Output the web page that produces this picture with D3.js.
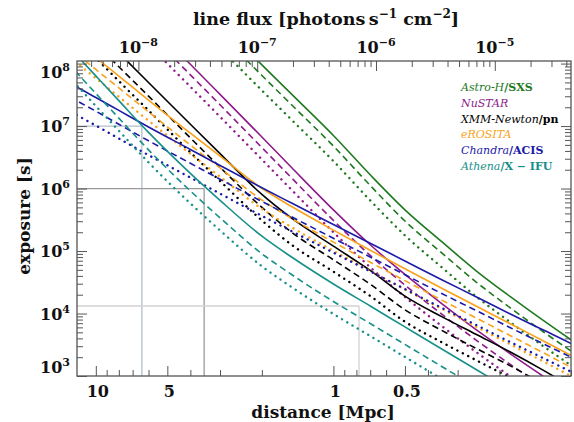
<!DOCTYPE html>
<html lang="en">
<head>
<meta charset="UTF-8">
<title>Exposure vs distance</title>
<script src="https://cdn.jsdelivr.net/npm/d3@7"></script>
<style>
  body { margin: 0; background: #ffffff; }
  text { font-family: "DejaVu Serif", serif; }
</style>
</head>
<body>
<script>
// instruments, in legend order
var instruments = ["Astro-H", "NuSTAR", "XMM-Newton", "eROSITA", "Chandra", "Athena"];
var detectors = ["SXS", "", "pn", "", "ACIS", "X \u2212 IFU"];
var colors = ["#1f7a1f", "#8e1b8c", "#000000", "#f9a21a", "#1b1ba8", "#18908a"];

// exposure curves: [distance in Mpc, exposure in s]
var astroSolid = [[2.5,2.24e8],[2,9.55e7],[1.5,3.24e7],[1,7.08e6],[0.7,1.66e6],[0.5,4.57e5],[0.35,1.41e5],[0.25,4.79e4],[0.18,1.86e4],[0.13,7.6e3],[0.1,3.8e3],[0.09,2.9e3]];
var astroDashed = [[2.5,1.51e8],[2,6.46e7],[1.5,2.19e7],[1,4.79e6],[0.7,1.12e6],[0.5,3.02e5],[0.35,9.33e4],[0.25,3.16e4],[0.18,1.23e4],[0.13,5.01e3],[0.1,2.51e3],[0.09,1.91e3]];
var astroDotted = [[3,1.74e8],[2.5,8.71e7],[2,3.72e7],[1.5,1.26e7],[1,2.75e6],[0.7,6.46e5],[0.5,1.78e5],[0.35,5.5e4],[0.25,1.86e4],[0.18,7.24e3],[0.13,2.95e3],[0.1,1.48e3],[0.09,1.12e3]];

var nustarSolid = [[5,2.27e8],[4,9.75e7],[3,3.22e7],[2,6.68e6],[1.5,2.17e6],[1,4.56e5],[0.7,1.26e5],[0.5,4.22e4],[0.35,1.44e4],[0.25,5.46e3],[0.18,2.26e3],[0.12,794]];
var nustarDashed = [[5,1.55e8],[4,6.61e7],[3,2.19e7],[2,4.52e6],[1.5,1.48e6],[1,3.09e5],[0.7,8.51e4],[0.5,2.85e4],[0.35,9.77e3],[0.25,3.72e3],[0.18,1.53e3],[0.12,537]];
var nustarDotted = [[6,2.0e8],[5,1.0e8],[4,4.27e7],[3,1.41e7],[2,2.92e6],[1.5,9.55e5],[1,2.0e5],[0.7,5.5e4],[0.5,1.84e4],[0.35,6.31e3],[0.25,2.4e3],[0.18,989],[0.15,617]];

var xmmSolid = [[8,1.49e8],[6,4.98e7],[4,1.07e7],[3,3.63e6],[2,8.04e5],[1.5,3.35e5],[1,1.2e5],[0.7,4.89e4],[0.5,1.9e4],[0.35,8.91e3],[0.25,4.61e3],[0.18,2.42e3],[0.13,1.22e3],[0.11,843]];
var xmmDashed = [[10,2.09e8],[8,8.91e7],[6,3.02e7],[4,6.46e6],[3,2.19e6],[2,5.01e5],[1.5,2.0e5],[1,7.24e4],[0.7,2.95e4],[0.5,1.15e4],[0.35,5.37e3],[0.25,2.75e3],[0.18,1.45e3],[0.13,733]];
var xmmDotted = [[12,2.45e8],[10,1.23e8],[8,5.25e7],[6,1.78e7],[4,3.8e6],[3,1.32e6],[2,3.09e5],[1.5,1.26e5],[1,4.68e4],[0.7,1.91e4],[0.5,7.41e3],[0.35,3.47e3],[0.25,1.78e3],[0.18,933],[0.15,631]];

var erositaSolid = [[12,2.18e8],[10,1.25e8],[8,6.31e7],[6,2.61e7],[4,7.69e6],[3,3.31e6],[2,1.01e6],[1.5,5.15e5],[1,2.16e5],[0.7,1.03e5],[0.5,5.2e4],[0.35,2.54e4],[0.25,1.31e4],[0.18,6.84e3],[0.13,3.61e3],[0.1,2.14e3],[0.09,1.74e3]];
var erositaDashed = [[12,1.41e8],[10,8.05e7],[8,4.07e7],[6,1.69e7],[4,4.97e6],[3,2.14e6],[2,6.55e5],[1.5,3.33e5],[1,1.39e5],[0.7,6.62e4],[0.5,3.36e4],[0.35,1.64e4],[0.25,8.45e3],[0.18,4.42e3],[0.13,2.33e3],[0.1,1.38e3],[0.09,1.12e3]];
var erositaDotted = [[14,1.62e8],[12,1.02e8],[10,5.83e7],[8,2.95e7],[6,1.22e7],[4,3.6e6],[3,1.55e6],[2,4.74e5],[1.5,2.41e5],[1,1.01e5],[0.7,4.8e4],[0.5,2.43e4],[0.35,1.19e4],[0.25,6.12e3],[0.18,3.2e3],[0.13,1.69e3],[0.1,1.0e3],[0.09,813]];

var chandraSolid = [[14,6.03e7],[12,4.22e7],[10,2.86e7],[8,1.78e7],[6,9.66e6],[4,4.22e6],[3,2.34e6],[2,1.03e6],[1.5,5.86e5],[1,2.66e5],[0.7,1.33e5],[0.5,6.93e4],[0.35,3.47e4],[0.25,1.84e4],[0.18,9.84e3],[0.13,5.38e3],[0.1,3.31e3],[0.09,2.69e3]];
var chandraDashed = [[14,3.63e7],[12,2.54e7],[10,1.73e7],[8,1.07e7],[6,5.82e6],[4,2.54e6],[3,1.41e6],[2,6.22e5],[1.5,3.53e5],[1,1.6e5],[0.7,8.04e4],[0.5,4.18e4],[0.35,2.09e4],[0.25,1.11e4],[0.18,5.93e3],[0.13,3.24e3],[0.1,2.0e3],[0.09,1.62e3]];
var chandraDotted = [[14,2.14e7],[12,1.5e7],[10,1.02e7],[8,6.32e6],[6,3.43e6],[4,1.5e6],[3,8.3e5],[2,3.66e5],[1.5,2.08e5],[1,9.44e4],[0.7,4.73e4],[0.5,2.46e4],[0.35,1.23e4],[0.25,6.52e3],[0.18,3.49e3],[0.13,1.91e3],[0.1,1.17e3],[0.09,955]];

var athenaSolid = [[14,2.53e8],[12,1.34e8],[10,6.35e7],[8,2.55e7],[6,7.92e6],[4,1.75e6],[3,6.47e5],[2,1.73e5],[1.5,8.02e4],[1,2.97e4],[0.7,1.32e4],[0.5,6.1e3],[0.35,2.7e3],[0.3,1.91e3],[0.25,1.26e3],[0.2,759]];
var athenaDashed = [[14,1.33e8],[12,7.05e7],[10,3.33e7],[8,1.34e7],[6,4.16e6],[4,9.18e5],[3,3.4e5],[2,9.06e4],[1.5,4.21e4],[1,1.56e4],[0.7,6.92e3],[0.5,3.2e3],[0.35,1.42e3],[0.3,1.0e3],[0.25,661]];
var athenaDotted = [[14,8.38e7],[12,4.45e7],[10,2.1e7],[8,8.43e6],[6,2.62e6],[4,5.79e5],[3,2.14e5],[2,5.71e4],[1.5,2.65e4],[1,9.84e3],[0.7,4.37e3],[0.5,2.02e3],[0.35,895],[0.3,631]];

// grey guide lines: distance (Mpc) and exposure (s)
var refDist = [6.4, 3.5, 0.78];
var refExp = [1e7, 1e6, 1.32e4];
var refColors = ["#b3bdc9", "#9a9a9a", "#d2d2d2"];

// tick labels
var expExponents = [3, 4, 5, 6, 7, 8];
var distLabels = [10, 5, 1, 0.5];
var fluxExponents = [-8, -7, -6, -5];

var curves = [
  {data: astroSolid, inst: 0, style: "solid"}, {data: astroDashed, inst: 0, style: "dashed"}, {data: astroDotted, inst: 0, style: "dotted"},
  {data: nustarSolid, inst: 1, style: "solid"}, {data: nustarDashed, inst: 1, style: "dashed"}, {data: nustarDotted, inst: 1, style: "dotted"},
  {data: xmmSolid, inst: 2, style: "solid"}, {data: xmmDashed, inst: 2, style: "dashed"}, {data: xmmDotted, inst: 2, style: "dotted"},
  {data: erositaSolid, inst: 3, style: "solid"}, {data: erositaDashed, inst: 3, style: "dashed"}, {data: erositaDotted, inst: 3, style: "dotted"},
  {data: chandraSolid, inst: 4, style: "solid"}, {data: chandraDashed, inst: 4, style: "dashed"}, {data: chandraDotted, inst: 4, style: "dotted"},
  {data: athenaSolid, inst: 5, style: "solid"}, {data: athenaDashed, inst: 5, style: "dashed"}, {data: athenaDotted, inst: 5, style: "dotted"}
];

//Size of the figure and of the plot frame
var w = 574, h = 422;
var pl = 77, pr = 571, pt = 61, pb = 376;
var frameColor = "#555555";

var svg = d3.select("body").append("svg")
  .attr("width", w)
  .attr("height", h);

//Scales: distance runs backwards, the flux axis on top follows flux = fluxK / d^2
var x = d3.scaleLog().domain([12, 0.1]).range([pl, pr]);
var y = d3.scaleLog().domain([1e3, 1.1e8]).range([pb, pt]);
var fluxK = 4.38e-7;
var xf = d3.scaleLog().domain([fluxK / 144, fluxK / 0.01]).range([pl, pr]);

function isDecade(v) {
  var l = Math.log10(v);
  return Math.abs(l - Math.round(l)) < 1e-6;
}

svg.append("clipPath").attr("id", "plotclip")
  .append("rect")
  .attr("x", pl).attr("y", pt)
  .attr("width", pr - pl).attr("height", pb - pt);

//Grey guide lines
var refs = svg.append("g").attr("clip-path", "url(#plotclip)");
refDist.forEach(function(d, i) {
  refs.append("line")
    .attr("x1", x(d)).attr("x2", x(d))
    .attr("y1", pb).attr("y2", y(refExp[i]))
    .attr("stroke", refColors[i]).attr("stroke-width", 1.3);
  refs.append("line")
    .attr("x1", pl).attr("x2", x(d))
    .attr("y1", y(refExp[i])).attr("y2", y(refExp[i]))
    .attr("stroke", refColors[i]).attr("stroke-width", 1.3);
});

//Exposure curves
var line = d3.line()
  .x(function(d) { return x(d[0]); })
  .y(function(d) { return y(d[1]); })
  .curve(d3.curveMonotoneX);

var dashes = {solid: null, dashed: "6.5,4", dotted: "0.1,6"};

svg.append("g").attr("clip-path", "url(#plotclip)")
  .selectAll("path.curve")
  .data(curves)
  .enter()
  .append("path")
  .attr("class", "curve")
  .attr("d", function(d) { return line(d.data); })
  .attr("fill", "none")
  .attr("stroke", function(d) { return colors[d.inst]; })
  .attr("stroke-width", function(d) { return d.style == "dotted" ? 2.4 : 1.6; })
  .attr("stroke-linecap", function(d) { return d.style == "dotted" ? "round" : "butt"; })
  .attr("stroke-dasharray", function(d) { return dashes[d.style]; });

//Ticks (all pointing into the frame)
function styleTicks(g) {
  g.select(".domain").remove();
  g.selectAll("line").attr("stroke", frameColor).attr("stroke-width", 1);
}
var yTicks = y.ticks();
var yMajor = yTicks.filter(isDecade);
var yMinor = yTicks.filter(function(v) { return !isDecade(v); });
var xTicks = x.ticks();
var xMajor = xTicks.filter(function(v) { return distLabels.some(function(l) { return Math.abs(l - v) < 1e-9; }); });
var xMinor = xTicks.filter(function(v) { return xMajor.indexOf(v) < 0; });
var fTicks = xf.ticks();
var fMajor = fTicks.filter(isDecade);
var fMinor = fTicks.filter(function(v) { return !isDecade(v); });

var axes = [
  [d3.axisLeft(y), "translate(" + pl + ",0)", yMajor, yMinor],
  [d3.axisRight(y), "translate(" + pr + ",0)", yMajor, yMinor],
  [d3.axisBottom(x), "translate(0," + pb + ")", xMajor, xMinor],
  [d3.axisTop(xf), "translate(0," + pt + ")", fMajor, fMinor]
];
axes.forEach(function(a) {
  svg.append("g").attr("transform", a[1])
    .call(a[0].tickValues(a[3]).tickSize(-6).tickSizeOuter(0).tickFormat(""))
    .call(styleTicks);
  svg.append("g").attr("transform", a[1])
    .call(a[0].tickValues(a[2]).tickSize(-10).tickSizeOuter(0).tickFormat(""))
    .call(styleTicks);
});

svg.append("rect")
  .attr("x", pl).attr("y", pt)
  .attr("width", pr - pl).attr("height", pb - pt)
  .attr("fill", "none")
  .attr("stroke", frameColor)
  .attr("stroke-width", 1.3);

//Tick labels
var lab = svg.append("g")
  .attr("font-weight", "bold")
  .attr("fill", "#111");

expExponents.forEach(function(e) {
  var yy = Math.max(72, Math.min(367, y(Math.pow(10, e))));
  var t = lab.append("text")
    .attr("x", 70).attr("y", yy + 6)
    .attr("text-anchor", "end")
    .attr("font-size", 16);
  t.append("tspan").text("10");
  t.append("tspan").attr("dy", -7).attr("font-size", 11).text(e);
});

distLabels.forEach(function(d) {
  lab.append("text")
    .attr("x", x(d) + 2).attr("y", 397)
    .attr("text-anchor", "middle")
    .attr("font-size", 16)
    .text(d);
});

fluxExponents.forEach(function(e) {
  var t = lab.append("text")
    .attr("x", xf(Math.pow(10, e))).attr("y", 53)
    .attr("text-anchor", "middle")
    .attr("font-size", 16);
  t.append("tspan").text("10");
  t.append("tspan").attr("dy", -7).attr("font-size", 11).text("\u2212" + (-e));
});

//Axis titles
var titles = svg.append("g")
  .attr("font-weight", "bold")
  .attr("fill", "#111");

titles.append("text")
  .attr("transform", "translate(30,216) rotate(-90)")
  .attr("text-anchor", "middle")
  .attr("font-size", 17)
  .text("exposure [s]");

titles.append("text")
  .attr("x", 323).attr("y", 418)
  .attr("text-anchor", "middle")
  .attr("font-size", 17)
  .text("distance [Mpc]");

var ft = titles.append("text")
  .attr("x", 326).attr("y", 25)
  .attr("text-anchor", "middle")
  .attr("font-size", 17.5);
ft.append("tspan").text("line flux [photons\u2009s");
ft.append("tspan").attr("dy", -7).attr("font-size", 12).text("\u22121");
ft.append("tspan").attr("dy", 7).text(" cm");
ft.append("tspan").attr("dy", -7).attr("font-size", 12).text("\u22122");
ft.append("tspan").attr("dy", 7).text("]");

//Legend
instruments.forEach(function(name, i) {
  var t = svg.append("text")
    .attr("x", 461).attr("y", 91 + i * 15.8)
    .attr("font-size", 11)
    .attr("fill", colors[i]);
  t.append("tspan").attr("font-style", "italic").text(name);
  if (detectors[i] != "") {
    t.append("tspan").attr("font-weight", "bold").text("/" + detectors[i]);
  }
});
</script>
</body>
</html>
